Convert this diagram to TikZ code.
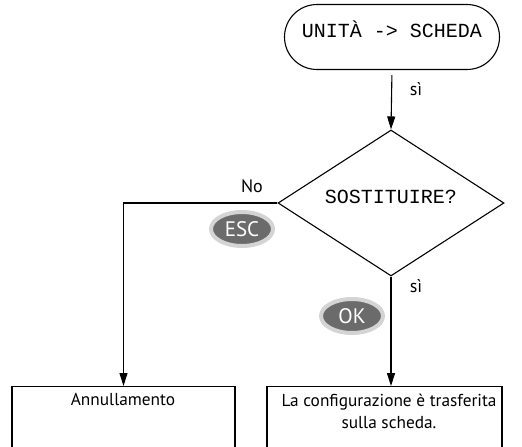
\documentclass[tikz,border=0pt]{standalone}
\usepackage{fontspec}
\setmainfont{PT Sans}
\newfontfamily\lcd{Liberation Mono}
\usetikzlibrary{shapes.geometric,shapes.misc,arrows.meta}
\tikzset{
  lcdtext/.style={font=\lcd\fontsize{20}{20}\selectfont, text height=0pt, text depth=0pt},
  terminal/.style={draw, rounded rectangle, minimum width=215pt, minimum height=65pt, inner sep=0pt},
  decision/.style={draw, diamond, aspect=1.548, minimum width=226pt, minimum height=146pt, inner sep=0pt},
  outbox/.style={draw, rectangle, minimum height=80pt, inner sep=0pt, anchor=north},
  boxtext/.style={font=\fontsize{17.3}{22}\selectfont, align=center, anchor=north, inner sep=0pt},
  lbl/.style={font=\fontsize{18}{18}\selectfont, inner sep=0pt},
  key/.style={ellipse, fill=black!58, draw=black!17, line width=4pt, minimum width=62pt, minimum height=34pt, inner sep=0pt, text=white, font=\fontsize{21}{21}\selectfont},
  arr/.style={-{Triangle[length=13pt,width=8pt]}}
}
\begin{document}
\begin{tikzpicture}[x=1pt,y=-1pt, line width=1.1pt]
\useasboundingbox (0,0) rectangle (522,447);
\clip (0,0) rectangle (522,447);
\node[terminal, lcdtext] (t) at (392,37) {UNITÀ -> SCHEDA};
\node[decision, lcdtext] (d) at (391,203) {SOSTITUIRE?};
\node[outbox, minimum width=223pt] (b1) at (123.5,386) {};
\node[outbox, minimum width=235pt] (b2) at (384.5,386) {};
\node[boxtext] (b1t) at (123,393) {Annullamento};
\node[boxtext] (b2t) at (389,393) {La configurazione è trasferita\\sulla scheda.};
\draw[arr, shorten <=5pt] (t.south) -- (d.north);
\draw[arr] (d.west) -| (b1.north);
\draw[arr] (d.south) -- (d.south |- b2.north);
\node[lbl] (s1) at (416,89) {sì};
\node[lbl] (s2) at (416,286) {sì};
\node[lbl] (no) at (252,186) {No};
\node[key] (esc) at (242,229) {ESC};
\node[key] (ok) at (352,316) {OK};
\end{tikzpicture}
\end{document}
